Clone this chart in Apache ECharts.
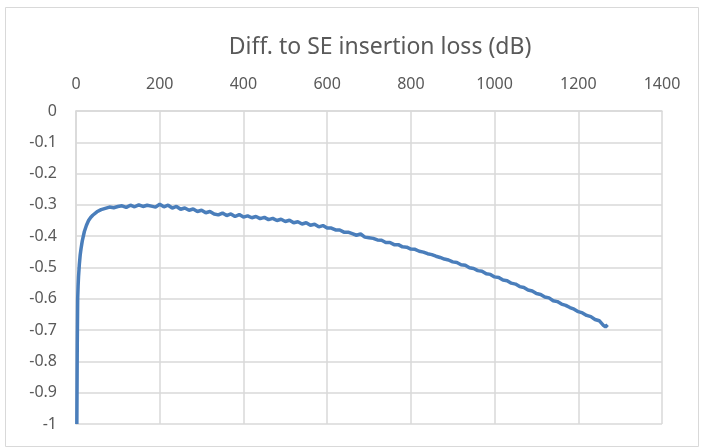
<!DOCTYPE html>
<html>
<head>
<meta charset="utf-8">
<script src="https://cdn.jsdelivr.net/npm/echarts@6/dist/echarts.min.js"></script>
<style>
html,body{margin:0;padding:0;background:#fff;}
#chart{width:704px;height:448px;}
</style>
</head>
<body>
<div id="chart"></div>
<script>
const titleText = 'Diff. to SE insertion loss (dB)';
const xTicks = [0, 200, 400, 600, 800, 1000, 1200, 1400];
const yTicks = [0, -0.1, -0.2, -0.3, -0.4, -0.5, -0.6, -0.7, -0.8, -0.9, -1];
const xValues = [2,3,4,5,6,8,10,12,15,20,25,30,35,40,50,60,70,80,90,100,
110,120,130,140,150,160,170,180,190,200,210,220,230,240,250,260,270,280,290,300,
310,320,330,340,350,360,370,380,390,400,410,420,430,440,450,460,470,480,490,500,
510,520,530,540,550,560,570,580,590,600,610,620,630,640,650,660,670,680,690,700,
710,720,730,740,750,760,770,780,790,800,810,820,830,840,850,860,870,880,890,900,
910,920,930,940,950,960,970,980,990,1000,1010,1020,1030,1040,1050,1060,1070,1080,1090,1100,
1110,1120,1130,1140,1150,1160,1170,1180,1190,1200,1210,1220,1230,1240,1250,1260,1265,1270];
const yValues = [-1.0,-0.75,-0.6,-0.56,-0.53,-0.49,-0.46,-0.44,-0.415,-0.385,-0.365,-0.35,-0.34,-0.333,-0.322,-0.315,-0.311,-0.307,-0.309,-0.305,
-0.303,-0.308,-0.301,-0.306,-0.300,-0.305,-0.301,-0.304,-0.307,-0.298,-0.306,-0.301,-0.310,-0.305,-0.314,-0.310,-0.317,-0.313,-0.321,-0.317,
-0.325,-0.321,-0.329,-0.332,-0.326,-0.334,-0.329,-0.337,-0.331,-0.339,-0.335,-0.341,-0.337,-0.344,-0.340,-0.347,-0.343,-0.350,-0.346,-0.353,
-0.349,-0.357,-0.354,-0.361,-0.357,-0.365,-0.362,-0.370,-0.366,-0.374,-0.374,-0.380,-0.380,-0.387,-0.387,-0.392,-0.397,-0.393,-0.403,-0.405,
-0.407,-0.412,-0.413,-0.420,-0.420,-0.427,-0.427,-0.434,-0.435,-0.441,-0.442,-0.448,-0.451,-0.456,-0.459,-0.464,-0.468,-0.473,-0.476,-0.482,
-0.484,-0.491,-0.493,-0.501,-0.503,-0.510,-0.512,-0.520,-0.522,-0.530,-0.532,-0.540,-0.542,-0.550,-0.553,-0.561,-0.564,-0.572,-0.575,-0.583,
-0.586,-0.594,-0.597,-0.606,-0.609,-0.617,-0.621,-0.628,-0.633,-0.641,-0.645,-0.653,-0.657,-0.666,-0.670,-0.685,-0.690,-0.683];

const seriesData = xValues.map((x, i) => [x, yValues[i]]);
const font = 'Noto Sans';
const textColor = '#595959';
const gridColor = '#d9d9d9';

const chart = echarts.init(document.getElementById('chart'), null, {renderer: 'canvas'});
chart.setOption({
  animation: false,
  backgroundColor: '#fff',
  graphic: [
    {type: 'rect', shape: {x: 5.5, y: 7.5, width: 693, height: 439}, style: {fill: 'none', stroke: gridColor, lineWidth: 1}, z: -1},
    {type: 'text', x: 380, y: 47, style: {text: titleText, fill: textColor, font: '23px "Noto Sans"', textAlign: 'center', textVerticalAlign: 'middle'}}
  ],
  grid: {left: 76, right: 42, top: 111, bottom: 24, containLabel: false},
  xAxis: {
    type: 'value', position: 'top', min: xTicks[0], max: xTicks[xTicks.length - 1], interval: 200,
    axisLine: {show: true, onZero: false, lineStyle: {color: gridColor, width: 1.5}},
    axisTick: {show: false},
    axisLabel: {color: textColor, fontFamily: font, fontSize: 16, margin: 19, formatter: v => String(v)},
    splitLine: {show: true, lineStyle: {color: gridColor, width: 1.5}}
  },
  yAxis: {
    type: 'value', min: yTicks[yTicks.length - 1], max: yTicks[0], interval: 0.1,
    axisLine: {show: true, lineStyle: {color: gridColor, width: 1.5}},
    axisTick: {show: false},
    axisLabel: {color: textColor, fontFamily: font, fontSize: 16, margin: 19,
      formatter: v => { const r = Math.round(v * 10) / 10; return String(r === 0 ? 0 : r); }},
    splitLine: {show: true, lineStyle: {color: gridColor, width: 1.5}}
  },
  series: [{
    type: 'line', data: seriesData, showSymbol: false, symbol: 'none',
    lineStyle: {color: '#4a7ebb', width: 3.5}, clip: true
  }]
});
</script>
</body>
</html>
